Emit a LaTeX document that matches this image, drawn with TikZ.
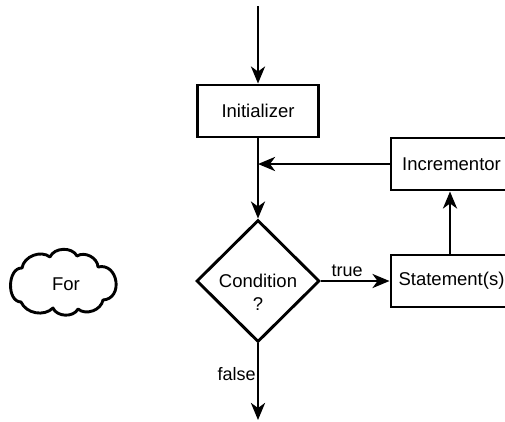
\documentclass[tikz,border=0pt]{standalone}
\usepackage{fontspec}
\setmainfont{Liberation Sans}
\usetikzlibrary{arrows.meta,shapes.geometric}
\begin{document}
\begin{tikzpicture}[x=1pt,y=-1pt,
  every node/.style={font=\fontsize{18.5}{22}\selectfont},
  box/.style={draw,line width=2.9pt,minimum width=121pt,minimum height=52pt,inner sep=0pt},
  dia/.style={draw,line width=2.9pt,diamond,minimum width=123pt,minimum height=122pt,inner sep=0pt},
  cloudline/.style={draw,line width=2.9pt,line join=round},
  arr/.style={line width=2.9pt,-{Stealth[length=17pt,width=14pt,inset=5pt]}},
  lbl/.style={font=\fontsize{18}{21}\selectfont,inner sep=1pt}]
\path[use as bounding box] (0,0) rectangle (505,421);
\clip (0,0) rectangle (505,421);
\node[box] (init) at (258,111) {Initializer};
\node[dia] (cond) at (258,281) {};
\node[align=center,inner sep=0pt] (condtxt) at (258,292) {Condition\\[1pt]?};
\node[box] (stmt) at (451.5,281) {Statement(s)};
\node[box] (incr) at (451.5,164) {Incrementor};
% cloud
\path[cloudline] (22,268) to[bend left=60] (50,257) to[bend left=65] (77,256)
  to[bend left=60] (98,267) to[bend left=95,looseness=1.6] (103,300) to[bend left=60] (78,309)
  to[bend left=65] (53,308) to[bend left=55] (21,302) to[bend left=90,looseness=1.1] cycle;
\node (for) at (66,284) {For};
\coordinate (top) at (258,6);
\coordinate (join) at (258,164);
\coordinate (end) at (258,420);
\draw[arr] (top) -- (init.north);
\draw[arr] (init.south) -- (cond.north);
\draw[arr] (incr.west) -- (join);
\draw[arr] (cond.east) -- node[lbl,above,pos=0.38,yshift=2pt] {true} (stmt.west);
\draw[arr] (stmt.north -| 450,0) -- (incr.south -| 450,0);
\draw[arr] (cond.south) -- node[lbl,left,pos=0.4] {false} (end);
\end{tikzpicture}
\end{document}
